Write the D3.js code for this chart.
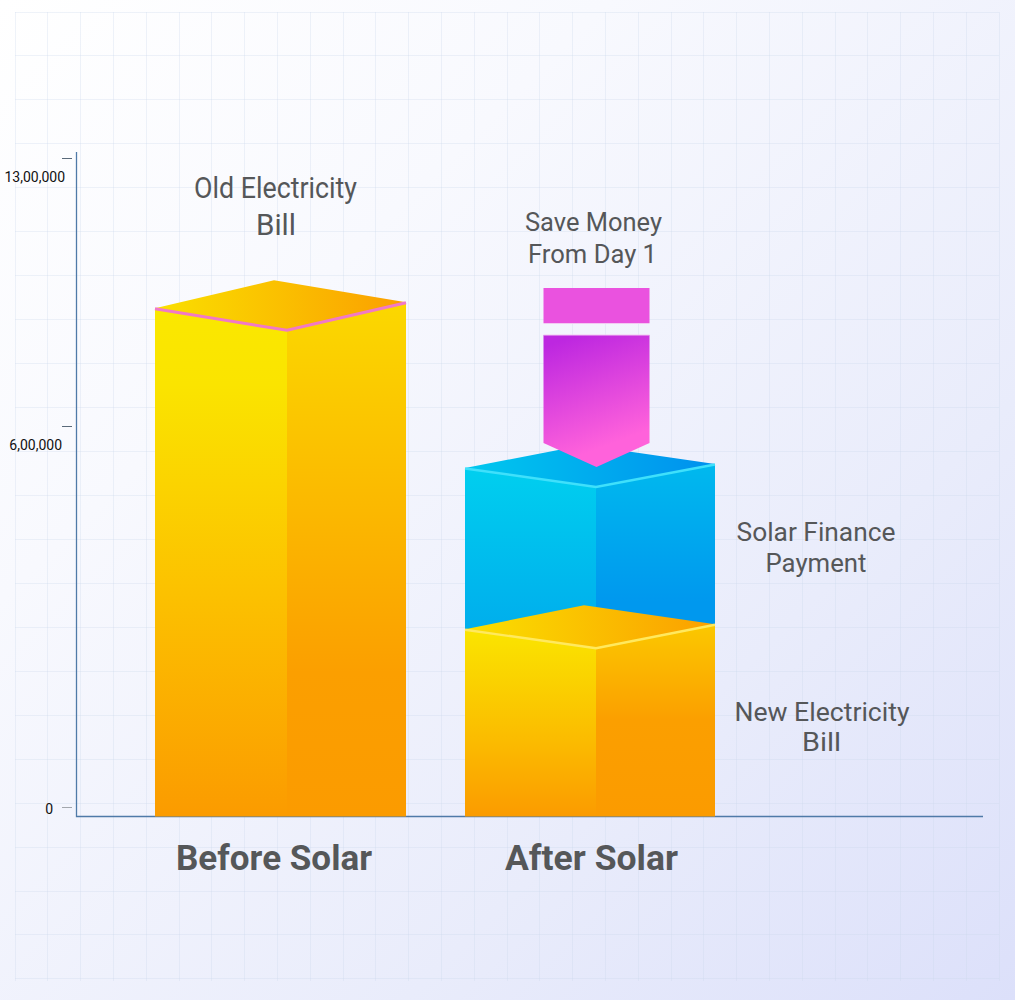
<!DOCTYPE html>
<html>
<head>
<meta charset="utf-8">
<style>
  html, body { margin: 0; padding: 0; background: #fff; }
  svg { display: block; }
  text { font-family: "Roboto", sans-serif; }
</style>
</head>
<body>
<svg id="chart" width="1015" height="1000"></svg>
<script src="https://cdn.jsdelivr.net/npm/d3@7/dist/d3.min.js"></script>
<script>
// Chart data
const categories = ["Before Solar", "After Solar"];
const oldBill = [850000, 0];
const newBill = [0, 250000];
const financePayment = [0, 254000];
const axisTicks = [0, 600000, 1300000];

const svg = d3.select("#chart");
const W = 1015, H = 1000;
const floorY = 816.5;

// The value axis is stretched unevenly between its ticks
const y = d3.scaleLinear().domain(axisTicks).range([807, 426, 158]);
const x = d3.scaleBand().domain(categories).range([155, 715]).paddingInner(60 / 310).paddingOuter(0);

// Indian digit grouping: 13,00,000
const indian = d3.formatLocale({ decimal: ".", thousands: ",", grouping: [3, 2], currency: ["", ""] });
const fmt = indian.format(",d");

const defs = svg.append("defs");

function linear(id, x1, y1, x2, y2, stops) {
  const g = defs.append("linearGradient").attr("id", id)
    .attr("x1", x1).attr("y1", y1).attr("x2", x2).attr("y2", y2);
  stops.forEach(([o, c]) => g.append("stop").attr("offset", o).attr("stop-color", c));
}

linear("bg", 0, 0, 1, 1, [[0, "#ffffff"], [0.3, "#f8f9fe"], [0.7, "#e9ecfb"], [1, "#dce0fa"]]);
linear("amberLeft", 0, 0, 0, 1, [[0, "#fae800"], [0.15, "#fae400"], [0.55, "#fcc200"], [1, "#fb9b00"]]);
linear("amberRight", 0, 0, 0, 1, [[0, "#fbd800"], [0.72, "#fb9f00"], [1, "#fb9b00"]]);
linear("amberLeftShort", 0, 0, 0, 1, [[0, "#fae500"], [0.6, "#fbbb00"], [1, "#fb9b00"]]);
linear("amberRightShort", 0, 0, 0, 1, [[0, "#fbc800"], [0.5, "#fb9f00"], [1, "#fb9b00"]]);
linear("amberTop", 0, 0, 1, 0, [[0, "#fae000"], [1, "#fb9f00"]]);
linear("blueLeft", 0, 0, 0, 1, [[0, "#00cfef"], [1, "#00aaec"]]);
linear("blueRight", 0, 0, 0, 1, [[0, "#00b9ee"], [0.75, "#0098ee"], [1, "#0098ee"]]);
linear("blueTop", 0, 0, 1, 0, [[0, "#00c8ee"], [1, "#0090ee"]]);
linear("arrowFill", 0.3, 0, 0.6, 1, [[0, "#bd27e0"], [0.85, "#ff62db"], [1, "#ff62db"]]);

// Page background and faint graph-paper grid
svg.append("rect").attr("width", W).attr("height", H).attr("fill", "url(#bg)");
const gridX = d3.range(15, 1000, 32.8);
const gridY = d3.range(12, 982, 43.95);
const grid = svg.append("g").attr("stroke", "#c9d8ea").attr("stroke-opacity", 0.3).attr("shape-rendering", "crispEdges");
grid.selectAll("line.v").data(gridX).join("line").attr("class", "v")
  .attr("x1", d => d).attr("x2", d => d).attr("y1", 12).attr("y2", 981);
grid.selectAll("line.h").data(gridY).join("line").attr("class", "h")
  .attr("y1", d => d).attr("y2", d => d).attr("x1", 15).attr("x2", 999);

// Value axis
const axis = d3.axisLeft(y).tickValues(axisTicks).tickFormat(fmt).tickSize(10).tickPadding(0);
const axisG = svg.append("g").attr("transform", "translate(72,0)").call(axis);
axisG.select(".domain").remove();
axisG.selectAll(".tick line").attr("stroke", d => d === 0 ? "#a3a7ad" : "#5a6a7a");
axisG.selectAll(".tick text")
  .attr("fill", "#111")
  .style("font-size", "14px")
  .style("font-family", "Roboto, sans-serif")
  .attr("x", d => d === 1300000 ? -7 : d === 600000 ? -10 : -19)
  .attr("y", d => d === 0 ? 2 : 19);

// Axis lines
svg.append("path")
  .attr("d", `M76.5,152V${floorY}H983`)
  .attr("fill", "none").attr("stroke", "#4f7aa8").attr("stroke-width", 1.3);

// One box: two side faces, a top face and a highlighted front edge.
function box(g, xLeft, width, topVal, bottomY, riseL, riseR, fills, edge, edgeWidth) {
  const xR = xLeft + width;
  const xF = Math.round(xLeft + width * 0.525);
  const yF = y(topVal);
  const yL = yF - riseL;
  const yR = yF - riseR;
  const xB = xLeft + xR - xF;
  const yB = yL + yR - yF;
  g.append("path").attr("d", `M${xLeft},${yL}L${xF},${yF}V${bottomY}H${xLeft}Z`).attr("fill", fills[0]);
  g.append("path").attr("d", `M${xF},${yF}L${xR},${yR}V${bottomY}H${xF}Z`).attr("fill", fills[1]);
  g.append("path").attr("d", `M${xLeft},${yL}L${xB},${yB}L${xR},${yR}L${xF},${yF}Z`).attr("fill", fills[2]);
  g.append("path").attr("d", `M${xLeft},${yL + 0.5}L${xF},${yF}L${xR},${yR + 0.5}`)
    .attr("fill", "none").attr("stroke", edge).attr("stroke-width", edgeWidth);
}

const bars = svg.append("g");
const before = categories[0], after = categories[1];

box(bars, x(before), x.bandwidth() + 1, oldBill[0], floorY, 22, 28,
  ["url(#amberLeft)", "url(#amberRight)", "url(#amberTop)"], "#f179c6", 3);

// The finance payment box sits on the new bill box, so it is painted first
const stackTop = newBill[1] + financePayment[1];
box(bars, x(after), x.bandwidth(), stackTop, y(newBill[1]), 19, 23,
  ["url(#blueLeft)", "url(#blueRight)", "url(#blueTop)"], "#3fe0fb", 2.4);
box(bars, x(after), x.bandwidth(), newBill[1], floorY, 19, 24,
  ["url(#amberLeftShort)", "url(#amberRightShort)", "url(#amberTop)"], "#ffe95e", 2.4);

// Downward arrow above the stack
const arrow = svg.append("g").attr("stroke", "#f3c8f3").attr("stroke-width", 1);
arrow.append("rect").attr("x", 543.5).attr("y", 288).attr("width", 106).attr("height", 35).attr("fill", "#ea52df").attr("stroke", "none");
arrow.append("line").attr("x1", 543.5).attr("x2", 649.5).attr("y1", 323.5).attr("y2", 323.5);
arrow.append("path").attr("d", "M543.5,335H649.5V443L596.5,467L543.5,443Z").attr("fill", "url(#arrowFill)").attr("stroke", "none");
arrow.append("line").attr("x1", 543.5).attr("x2", 649.5).attr("y1", 335).attr("y2", 335);

// Annotations, condensed to suit the tall narrow lettering
const ink = "#555759";
function fitted(parent, s, cx, baseline, width, size, weight) {
  return parent.append("text").attr("x", cx).attr("y", baseline)
    .attr("text-anchor", "middle").attr("fill", ink)
    .attr("textLength", width).attr("lengthAdjust", "spacingAndGlyphs")
    .style("font-size", size + "px").style("font-weight", weight)
    .style("font-family", "Roboto, sans-serif").text(s);
}
const notes = svg.append("g");
fitted(notes, "Old Electricity", 275.5, 197.5, 163, 29, 400);
fitted(notes, "Bill", 276, 234.5, 40, 29, 400);
fitted(notes, "Save Money", 593.5, 230.5, 137, 26, 400);
fitted(notes, "From Day 1", 592.5, 262.5, 129, 26, 400);
fitted(notes, "Solar Finance", 816, 541, 159, 26, 400);
fitted(notes, "Payment", 816, 572, 101, 26, 400);
fitted(notes, "New Electricity", 822, 721, 175, 26, 400);
fitted(notes, "Bill", 821.5, 751, 39, 26, 400);

// Category labels
const labelCentres = [274, 591.5], labelWidths = [196, 173];
const catG = svg.append("g");
categories.forEach((c, i) => fitted(catG, c, labelCentres[i], 870, labelWidths[i], 35, 700));
</script>
</body>
</html>
